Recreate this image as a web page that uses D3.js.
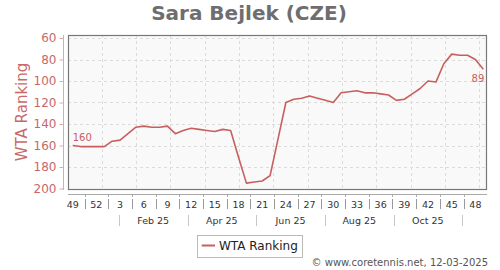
<!DOCTYPE html>
<html>
<head>
<meta charset="utf-8">
<script src="https://cdn.jsdelivr.net/npm/d3@7"></script>
<style>
  html, body { margin: 0; padding: 0; background: #fff; }
  svg { display: block; font-family: "DejaVu Sans", Verdana, sans-serif; }
</style>
</head>
<body>
<div id="chart"></div>
<script>
// ---- data ----
const title = "Sara Bejlek (CZE)";
const seriesName = "WTA Ranking";
const weeks = [49,50,51,52,1,2,3,4,5,6,7,8,9,10,11,12,13,14,15,16,17,18,19,20,21,22,23,24,25,26,27,28,29,30,31,32,33,34,35,36,37,38,39,40,41,42,43,44,45,46,47,48,49];
const ranks = [160,161,161,161,161,156,155,149,143,142,143,143,142,149,146,144,145,146,147,145,146,171,195,194,193,188,154,120,117,116,114,116,118,120,111,110,109,111,111,112,113,118,117,112,107,100,101,84,75,76,76,80,89];
const yTicks = [60,80,100,120,140,160,180,200];
const monthLabels = ["Feb 25","Apr 25","Jun 25","Aug 25","Oct 25"];
const monthLabelIdx = [2,4,6,8,10];
const copyright = "\u00A9 www.coretennis.net, 12-03-2025";

// ---- layout ----
const W = 500, H = 270;
const frame = {x0: 68, y0: 35, x1: 487, y1: 190};
const lineColor = "#c85f5f";
const axisRed = "#c86868";

const svg = d3.select("#chart").append("svg").attr("width", W).attr("height", H);

const x = d3.scaleLinear().domain([0, weeks.length - 1]).range([72.7, 483.3]);
const y = d3.scaleLinear().domain([60, 200]).range([38, 188.5]);

// month geometry in week-index units
const monthLen = 365.25 / 12 / 7;
const monthStart = m => 1.5 + m * monthLen;

// title
svg.append("text").attr("x", 249).attr("y", 20).attr("text-anchor", "middle")
  .attr("font-size", 20).attr("font-weight", "bold").attr("fill", "#6e6e6e").text(title);

// plot background + frame
svg.append("rect").attr("x", frame.x0).attr("y", frame.y0)
  .attr("width", frame.x1 - frame.x0).attr("height", frame.y1 - frame.y0)
  .attr("fill", "#f9f9f9");

// horizontal grid
svg.append("g").selectAll("line").data(yTicks).join("line")
  .attr("x1", frame.x0).attr("x2", frame.x1)
  .attr("y1", d => Math.round(y(d)) + 0.5).attr("y2", d => Math.round(y(d)) + 0.5)
  .attr("stroke", "#dcdcdc").attr("stroke-dasharray", "3,3");

// vertical grid (month centres)
const gridIdx = d3.range(12).map(m => monthStart(m + 0.5));
svg.append("g").selectAll("line").data(gridIdx).join("line")
  .attr("x1", d => Math.round(x(d)) + 0.5).attr("x2", d => Math.round(x(d)) + 0.5)
  .attr("y1", frame.y0).attr("y2", frame.y1)
  .attr("stroke", "#dcdcdc").attr("stroke-dasharray", "3,3");

svg.append("rect").attr("x", frame.x0 + 0.5).attr("y", frame.y0 + 0.5)
  .attr("width", frame.x1 - frame.x0 - 1).attr("height", frame.y1 - frame.y0 - 1)
  .attr("fill", "none").attr("stroke", "#777").attr("stroke-width", 1.2);

// y axis
const yAxis = d3.axisLeft(y).tickValues(yTicks).tickSize(4).tickPadding(3);
const gy = svg.append("g").attr("transform", "translate(63.5,0)").call(yAxis);
gy.select(".domain").attr("stroke", "#dcaaaa").attr("d", `M0,${frame.y0}V${frame.y1}`);
gy.selectAll(".tick line").attr("stroke", "#dcaaaa");
gy.selectAll(".tick text").attr("fill", axisRed).attr("font-size", 12)
  .attr("font-family", "DejaVu Sans, sans-serif");

svg.append("text").attr("transform", "translate(27,112) rotate(-90)")
  .attr("text-anchor", "middle").attr("font-size", 15).attr("fill", axisRed)
  .text(seriesName);

// x axis
const sepIdx = d3.range(1.5, weeks.length - 2, 3);
const labelIdx = d3.range(0, weeks.length - 1, 3);
const gx = svg.append("g");
gx.append("line").attr("x1", frame.x0).attr("x2", frame.x1).attr("y1", 194.5).attr("y2", 194.5)
  .attr("stroke", "#aaa");
gx.selectAll("line.tk").data(sepIdx).join("line").attr("class", "tk")
  .attr("x1", d => Math.round(x(d)) + 0.5).attr("x2", d => Math.round(x(d)) + 0.5)
  .attr("y1", 194.5).attr("y2", 197).attr("stroke", "#aaa");
gx.selectAll("line.sep").data(sepIdx).join("line").attr("class", "sep")
  .attr("x1", d => Math.round(x(d)) + 0.5).attr("x2", d => Math.round(x(d)) + 0.5)
  .attr("y1", 199).attr("y2", 209).attr("stroke", "#999");
gx.selectAll("text.wk").data(labelIdx).join("text").attr("class", "wk")
  .attr("x", d => x(d)).attr("y", 208.3).attr("text-anchor", "middle")
  .attr("font-size", 9.5).attr("fill", "#333").text(d => weeks[d]);

const monthSep = [1,3,5,7,9,11].map(monthStart);
gx.selectAll("line.msep").data(monthSep).join("line").attr("class", "msep")
  .attr("x1", d => Math.round(x(d)) + 0.5).attr("x2", d => Math.round(x(d)) + 0.5)
  .attr("y1", 215).attr("y2", 226).attr("stroke", "#c8c8c8");
gx.selectAll("text.mo").data(monthLabels).join("text").attr("class", "mo")
  .attr("x", (d, i) => x(monthStart(monthLabelIdx[i]))).attr("y", 223.7)
  .attr("text-anchor", "middle").attr("font-size", 9.5).attr("fill", "#333").text(d => d);

// line
const line = d3.line().x((d, i) => x(i)).y(d => y(d));
svg.append("path").datum(ranks).attr("d", line).attr("fill", "none")
  .attr("stroke", lineColor).attr("stroke-width", 1.6).attr("stroke-linejoin", "round");

// end labels
svg.append("text").attr("x", x(0)).attr("y", y(ranks[0]) - 4.7).attr("font-size", 10)
  .attr("fill", lineColor).text(ranks[0]);
svg.append("text").attr("x", x(ranks.length - 1) + 1).attr("y", y(ranks[ranks.length - 1]) + 13)
  .attr("text-anchor", "end").attr("font-size", 10).attr("fill", lineColor)
  .text(ranks[ranks.length - 1]);

// legend
const lg = svg.append("g");
lg.append("rect").attr("x", 197.5).attr("y", 235.5).attr("width", 105).attr("height", 22)
  .attr("fill", "#fff").attr("stroke", "#bbb");
lg.append("line").attr("x1", 201.7).attr("x2", 215).attr("y1", 245.5).attr("y2", 245.5)
  .attr("stroke", lineColor).attr("stroke-width", 2);
lg.append("text").attr("x", 219).attr("y", 249.5).attr("font-size", 12).attr("fill", "#222")
  .text(seriesName);

// copyright
svg.append("text").attr("x", 488).attr("y", 265.5).attr("text-anchor", "end")
  .attr("font-size", 10).attr("fill", "#555").text(copyright);
</script>
</body>
</html>
